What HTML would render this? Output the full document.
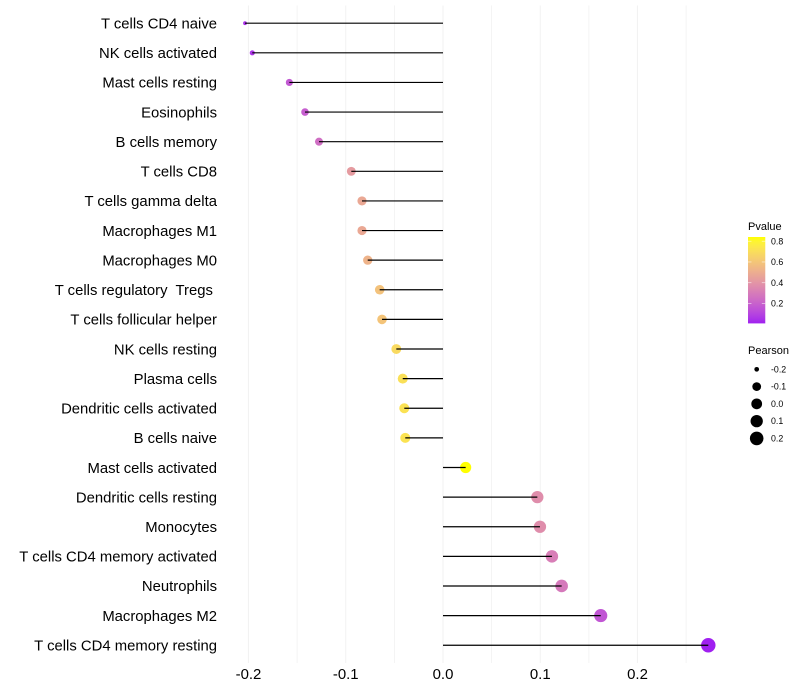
<!DOCTYPE html>
<html lang="en">
<head>
<meta charset="utf-8">
<title>Immune cell correlation lollipop chart</title>
<style>
html,body{margin:0;padding:0;background:#fff}
svg{display:block;font-family:"Liberation Sans",sans-serif}
text{white-space:pre}
</style>
</head>
<body>
<svg id="chart" xmlns="http://www.w3.org/2000/svg" width="800" height="700" viewBox="0 0 800 700">
  <defs><linearGradient id="pvalue-gradient" x1="0" y1="1" x2="0" y2="0"></linearGradient></defs>
  <rect width="800" height="700" fill="#fff"/>
  <g id="grid"></g>
  <g id="points"></g>
  <g id="stems"></g>
  <g id="ylabels"></g>
  <g id="xlabels"></g>
  <g id="color-legend"></g>
  <g id="size-legend"></g>
</svg>
<script>
const categories = ["T cells CD4 naive","NK cells activated","Mast cells resting","Eosinophils","B cells memory","T cells CD8","T cells gamma delta","Macrophages M1","Macrophages M0","T cells regulatory  Tregs ","T cells follicular helper","NK cells resting","Plasma cells","Dendritic cells activated","B cells naive","Mast cells activated","Dendritic cells resting","Monocytes","T cells CD4 memory activated","Neutrophils","Macrophages M2","T cells CD4 memory resting"];
const pearson = [-0.2036,-0.1961,-0.158,-0.1419,-0.1275,-0.0943,-0.0833,-0.0833,-0.0774,-0.0651,-0.0627,-0.048,-0.0414,-0.0398,-0.0388,0.0233,0.097,0.0997,0.112,0.122,0.1622,0.2728];
const pvalues = [0.05,0.06,0.17,0.19,0.25,0.425,0.48,0.48,0.525,0.585,0.595,0.685,0.71,0.72,0.725,0.84,0.37,0.37,0.31,0.29,0.16,0.01];
const xTicks = [-0.2,-0.1,0,0.1,0.2];
const xMinorTicks = [-0.15,-0.05,0.05,0.15,0.25];
const pvalueTicks = [0.2,0.4,0.6,0.8];
const pearsonBreaks = [-0.2,-0.1,0,0.1,0.2];

const NS = "http://www.w3.org/2000/svg";
function xScale(v){ return 443 + v * 972.5; }
function yScale(i){ return 23.2 + i * 29.62; }
function make(tag, attrs, parent){
  const el = document.createElementNS(NS, tag);
  for (const k in attrs) el.setAttribute(k, attrs[k]);
  parent.appendChild(el);
  return el;
}
function toLab(rgb){
  const f = c => { c/=255; return c>0.04045?Math.pow((c+0.055)/1.055,2.4):c/12.92; };
  const r=f(rgb[0]),g=f(rgb[1]),b=f(rgb[2]);
  const X=(0.4124564*r+0.3575761*g+0.1804375*b)/0.95047,Y=0.2126729*r+0.7151522*g+0.072175*b,Z=(0.0193339*r+0.119192*g+0.9503041*b)/1.08883;
  const h=t=>t>0.008856?Math.cbrt(t):7.787*t+16/116;
  return [116*h(Y)-16,500*(h(X)-h(Y)),200*(h(Y)-h(Z))];
}
function fromLab(lab){
  const fy=(lab[0]+16)/116,fx=fy+lab[1]/500,fz=fy-lab[2]/200;
  const h=t=>t*t*t>0.008856?t*t*t:(t-16/116)/7.787;
  const X=h(fx)*0.95047,Y=h(fy),Z=h(fz)*1.08883;
  const l=[3.2404542*X-1.5371385*Y-0.4985314*Z,-0.969266*X+1.8760108*Y+0.041556*Z,0.0556434*X-0.2040259*Y+1.0572252*Z];
  const c=l.map(v=>{v=Math.max(0,Math.min(1,v));return Math.round(255*(v>0.0031308?1.055*Math.pow(v,1/2.4)-0.055:12.92*v));});
  return "rgb("+c.join(",")+")";
}
const labLow = toLab([160,32,240]);
const labHigh = toLab([255,255,0]);
const pMin = Math.min.apply(null, pvalues);
const pMax = Math.max.apply(null, pvalues);
function colorAt(t){ return fromLab(labLow.map((v,i)=>v+(labHigh[i]-v)*t)); }
function colorScale(p){ return colorAt((p-pMin)/(pMax-pMin)); }
const rMin = Math.min.apply(null, pearson);
const rMax = Math.max.apply(null, pearson);
function radiusScale(r){
  const size = 1 + 5 * Math.sqrt(Math.max(0,(r-rMin)/(rMax-rMin)));
  return 0.375 * (size * 2.845 + 0.945) + 0.47;
}

const grid = document.getElementById("grid");
xMinorTicks.forEach(v => {
  const l = make("line",{x1:xScale(v),x2:xScale(v),y1:5.5,y2:663,stroke:"#f0f0f0","stroke-width":0.8},grid);
  
  
});
xTicks.forEach(v => {
  const l = make("line",{x1:xScale(v),x2:xScale(v),y1:5.5,y2:663,stroke:"#f2f2f2","stroke-width":1.07},grid);
  
  
});

const pointsG = document.getElementById("points");
const stemsG = document.getElementById("stems");
const yLabelsG = document.getElementById("ylabels");
categories.forEach((name,i) => {
  const c = make("circle",{cx:xScale(pearson[i]),cy:yScale(i),r:radiusScale(pearson[i]),fill:colorScale(pvalues[i])},pointsG);
  
  
  const s = make("line",{x1:xScale(0),x2:xScale(pearson[i]),y1:yScale(i),y2:yScale(i),stroke:"#000","stroke-width":1.2},stemsG);
  
  
  const t = make("text",{x:217,y:yScale(i)+5.26,"text-anchor":"end","font-size":14.85,fill:"#000"},yLabelsG);
  
  
  t.textContent = name;
});

const xLabelsG = document.getElementById("xlabels");
xTicks.forEach(v => {
  const t = make("text",{x:xScale(v),y:679,"text-anchor":"middle","font-size":14.95,fill:"#000"},xLabelsG);
  
  
  t.textContent = v.toFixed(1);
});

const grad = document.getElementById("pvalue-gradient");
for (let k=0;k<=20;k++){
  make("stop",{offset:k/20,"stop-color":colorAt(k/20)},grad);
}
const colorLegend = document.getElementById("color-legend");
const barTop = 237, barBottom = 323.4, barLeft = 748, barW = 17.28;
function barY(p){ return barBottom - (p-pMin)/(pMax-pMin)*(barBottom-barTop); }
const colorTitle = make("text",{x:748,y:230,"font-size":11,fill:"#000"},colorLegend);


colorTitle.textContent = "Pvalue";
const bar = make("rect",{x:barLeft,y:barTop,width:barW,height:barBottom-barTop,fill:"url(#pvalue-gradient)"},colorLegend);


pvalueTicks.forEach(p => {
  const y = barY(p);
  const a = make("line",{x1:barLeft,x2:barLeft+3.46,y1:y,y2:y,stroke:"#fff","stroke-width":0.5},colorLegend);
  
  
  const b = make("line",{x1:barLeft+barW-3.46,x2:barLeft+barW,y1:y,y2:y,stroke:"#fff","stroke-width":0.5},colorLegend);
  
  
  const t = make("text",{x:771,y:y+3.1,"font-size":8.8,fill:"#000"},colorLegend);
  
  
  t.textContent = p.toFixed(1);
});

const sizeLegend = document.getElementById("size-legend");
const sizeTitle = make("text",{x:748,y:354,"font-size":11,fill:"#000"},sizeLegend);


sizeTitle.textContent = "Pearson";
pearsonBreaks.forEach((r,i) => {
  const y = 369.3 + i * 17.28;
  const c = make("circle",{cx:756.7,cy:y,r:radiusScale(r),fill:"#000"},sizeLegend);
  
  
  const t = make("text",{x:771,y:y+3.1,"font-size":8.8,fill:"#000"},sizeLegend);
  
  
  t.textContent = r.toFixed(1);
});
</script>
</body>
</html>
